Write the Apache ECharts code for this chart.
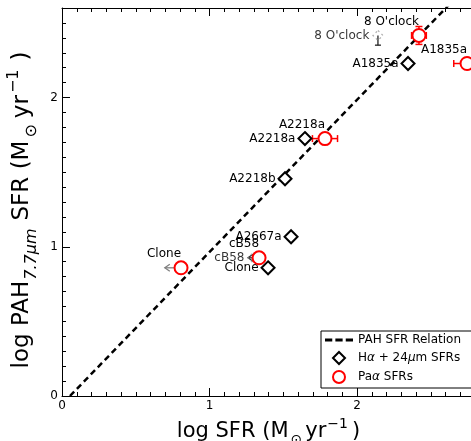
<!DOCTYPE html>
<html><head><meta charset="utf-8">
<script src="https://cdn.jsdelivr.net/npm/echarts@6/dist/echarts.min.js"></script>
<style>html,body{margin:0;padding:0;background:#fff}#c{width:471px;height:441px}</style>
</head><body><div id="c"></div>
<script>
// PAH SFR relation line
const relX = [0.054, 2.75];
const relY = [0, 2.75];
// H-alpha + 24um SFRs (open diamonds)
const haNames = ['A1835a', 'A2218a', 'A2218b', 'A2667a', 'Clone'];
const haX = [2.346, 1.647, 1.512, 1.553, 1.397];
const haY = [2.228, 1.725, 1.456, 1.067, 0.859];
// Limit (faint) H-alpha points
const limNames = ["8 O'clock", 'cB58'];
const limX = [2.142, 1.295];
const limY = [2.416, 0.926];
// Pa-alpha SFRs (open red circles)
const paNames = ["8 O'clock", 'A1835a', 'A2218a', 'cB58', 'Clone'];
const paX = [2.42, 2.746, 1.783, 1.336, 0.807];
const paY = [2.416, 2.228, 1.725, 0.926, 0.859];
const paXErr = [0.05, 0.09, 0.085, 0, 0];
const paYErr = [0.06, 0, 0, 0, 0];
// Upper-limit arrows: start x, start y, dx, dy
const arrowX = [0.807, 1.336, 2.142];
const arrowY = [0.859, 0.926, 2.416];
const arrowDX = [-0.11, -0.075, 0];
const arrowDY = [0, 0, -0.065];
const xTicks = [0, 1, 2];
const yTicks = [0, 1, 2];

const FONT = 'DejaVu Sans';
const chart = echarts.init(document.getElementById('c'), null, {renderer: 'canvas'});

const errData = paX.map((x, i) => [x, paY[i], paXErr[i], paYErr[i]]).filter(d => d[2] > 0 || d[3] > 0);
const arrowData = arrowX.map((x, i) => [x, arrowY[i], arrowDX[i], arrowDY[i]]);
const arrowColors = ['#808080', '#333333', '#222222'];

const xNameRich = {
  n: {fontSize: 21, fontFamily: FONT, color: '#000', verticalAlign: 'bottom', padding: [0, 0, 5, 0]},
  sub: {fontSize: 14, fontFamily: FONT, color: '#000', verticalAlign: 'bottom', padding: [0, 3, 0, 2]},
  sup: {fontSize: 14, fontFamily: FONT, color: '#000', verticalAlign: 'bottom', padding: [0, 4, 16, 1]}
};
const yNameRich = {
  n: {fontSize: 23, fontFamily: FONT, color: '#000', verticalAlign: 'bottom', padding: [0, 0, 6, 0]},
  last: {fontSize: 23, fontFamily: FONT, color: '#000', verticalAlign: 'bottom', padding: [0, 16, 6, 0]},
  sub: {fontSize: 16, fontFamily: FONT, color: '#000', verticalAlign: 'bottom', padding: [0, 6, 0, 3]},
  subi: {fontSize: 16, fontFamily: FONT, fontStyle: 'italic', color: '#000', verticalAlign: 'bottom', padding: [0, 8, 0, 1]},
  sup: {fontSize: 16, fontFamily: FONT, color: '#000', verticalAlign: 'bottom', padding: [0, 9, 18, 2]}
};

function mkX(pos) {
  return {
    type: 'value', min: 0, max: 2.8, interval: 1, position: pos, gridIndex: 0,
    axisLine: {show: true, onZero: false, lineStyle: {color: '#000', width: 1}},
    axisTick: {show: true, inside: true, length: 8, lineStyle: {color: '#000', width: 1}},
    minorTick: {show: true, splitNumber: 10, length: 4, lineStyle: {color: '#000', width: 1}},
    splitLine: {show: false},
    axisLabel: pos === 'bottom' ? {
      show: true, fontFamily: FONT, fontSize: 12, color: '#000', margin: 4,
      formatter: v => xTicks.includes(v) ? String(v) : ''
    } : {show: false},
    name: pos === 'bottom' ? '{n|log SFR (M}{sub|⊙}{n|yr}{sup|−1}{n|)}' : '',
    nameLocation: 'middle', nameGap: 19,
    nameTextStyle: {rich: xNameRich}
  };
}

const option = {
  animation: false,
  backgroundColor: '#fff',
  grid: {left: 62, top: 8, width: 413, height: 388, containLabel: false, outerBoundsMode: 'none'},
  xAxis: [mkX('bottom'), mkX('top')],
  yAxis: [{
    type: 'value', min: 0, max: 2.6, interval: 1, position: 'left',
    axisLine: {show: true, onZero: false, lineStyle: {color: '#000', width: 1}},
    axisTick: {show: true, inside: true, length: 8, lineStyle: {color: '#000', width: 1}},
    minorTick: {show: true, splitNumber: 10, length: 4, lineStyle: {color: '#000', width: 1}},
    splitLine: {show: false},
    axisLabel: {fontFamily: FONT, fontSize: 12, color: '#000', margin: 4,
      formatter: v => yTicks.includes(v) ? String(v) : ''},
    name: '{n|log PAH}{subi|7.7μm}{n|SFR (M}{sub|⊙}{n|yr}{sup|−1}{last|)}',
    nameLocation: 'middle', nameRotate: 90, nameGap: 10,
    nameTextStyle: {rich: yNameRich}
  }],
  legend: {
    show: true, orient: 'vertical', left: 321, top: 331,
    data: [
      {name: 'PAH SFR Relation', icon: 'path://M0,0h7v3h-7z M10,0h7v3h-7z M20,0h7v3h-7z'},
      {name: 'Hα+24μm SFRs', icon: 'path://M6,0L12,6L6,12L0,6Z'},
      {name: 'Paα SFRs', icon: 'circle'}
    ],
    backgroundColor: '#fff', borderColor: '#000', borderWidth: 1, borderRadius: 0,
    padding: [3, 40, 4, 4], itemGap: 5, itemWidth: 28, itemHeight: 12,
    textStyle: {fontFamily: FONT, fontSize: 12, color: '#000', rich: {
      t: {fontFamily: FONT, fontSize: 12, color: '#000'},
      i: {fontFamily: FONT, fontSize: 12, fontStyle: 'italic', color: '#000'}
    }},
    formatter: name => {
      if (name === 'Hα+24μm SFRs') return '{t|H}{i|α}{t| + 24}{i|μ}{t|m SFRs}';
      if (name === 'Paα SFRs') return '{t|Pa}{i|α}{t| SFRs}';
      return '{t|' + name + '}';
    }
  },
  series: [
    {
      name: 'PAH SFR Relation', type: 'line', symbol: 'none', clip: true,
      data: relX.map((x, i) => [x, relY[i]]),
      lineStyle: {color: '#000', width: 2.5, type: [6, 4]},
      itemStyle: {color: '#000'},
      z: 2
    },
    {
      name: 'limits', type: 'scatter', symbol: 'diamond', symbolSize: 10,
      data: limX.map((x, i) => ({name: limNames[i], value: [x, limY[i]]})),
      itemStyle: {color: 'rgba(255,255,255,0)', borderColor: '#9a9a9a', borderWidth: 1.2, borderType: [2, 3]},
      label: {show: true, position: 'left', distance: 3, formatter: '{b}',
        fontFamily: FONT, fontSize: 12, color: '#000'},
      z: 3
    },
    {
      name: 'arrows', type: 'custom', z: 3,
      data: arrowData,
      renderItem: (params, api) => {
        const x = api.value(0), y = api.value(1), dx = api.value(2), dy = api.value(3);
        const p0 = api.coord([x, y]);
        const p1 = api.coord([x + dx, y + dy]);
        const col = arrowColors[params.dataIndex];
        const st = {stroke: col, lineWidth: 1.3, fill: null};
        const ch = [{type: 'line', shape: {x1: p0[0], y1: p0[1], x2: p1[0], y2: p1[1]}, style: st}];
        if (dx !== 0) {
          const s = dx < 0 ? 1 : -1;
          ch.push({type: 'polyline', shape: {points: [[p1[0] + 5 * s, p1[1] - 3.5], [p1[0], p1[1]], [p1[0] + 5 * s, p1[1] + 3.5]]}, style: st});
        } else {
          ch.push({type: 'line', shape: {x1: p1[0] - 3, y1: p1[1], x2: p1[0] + 3, y2: p1[1]}, style: st});
        }
        return {type: 'group', children: ch};
      }
    },
    {
      name: 'errbars', type: 'custom', z: 3,
      data: errData,
      renderItem: (params, api) => {
        const x = api.value(0), y = api.value(1), xe = api.value(2), ye = api.value(3);
        const st = {stroke: '#ff0000', lineWidth: 1.5};
        const ch = [];
        if (xe > 0) {
          const l = api.coord([x - xe, y]), r = api.coord([x + xe, y]);
          ch.push({type: 'line', shape: {x1: l[0], y1: l[1], x2: r[0], y2: r[1]}, style: st});
          ch.push({type: 'line', shape: {x1: l[0], y1: l[1] - 3.5, x2: l[0], y2: l[1] + 3.5}, style: st});
          ch.push({type: 'line', shape: {x1: r[0], y1: r[1] - 3.5, x2: r[0], y2: r[1] + 3.5}, style: st});
        }
        if (ye > 0) {
          const b = api.coord([x, y - ye]), t = api.coord([x, y + ye]);
          ch.push({type: 'line', shape: {x1: b[0], y1: b[1], x2: t[0], y2: t[1]}, style: st});
          ch.push({type: 'line', shape: {x1: b[0] - 3.5, y1: b[1], x2: b[0] + 3.5, y2: b[1]}, style: st});
          ch.push({type: 'line', shape: {x1: t[0] - 3.5, y1: t[1], x2: t[0] + 3.5, y2: t[1]}, style: st});
        }
        return {type: 'group', children: ch};
      }
    },
    {
      name: 'Hα+24μm SFRs', type: 'scatter', symbol: 'diamond', symbolSize: 13,
      data: haX.map((x, i) => ({name: haNames[i], value: [x, haY[i]]})),
      itemStyle: {color: '#fff', borderColor: '#000', borderWidth: 2, opacity: 1},
      label: {show: true, position: 'left', distance: 2, formatter: '{b}',
        fontFamily: FONT, fontSize: 12, color: '#000'},
      z: 4
    },
    {
      name: 'Paα SFRs', type: 'scatter', symbol: 'circle', symbolSize: 13,
      data: paX.map((x, i) => ({name: paNames[i], value: [x, paY[i]]})),
      itemStyle: {color: '#fff', borderColor: '#ff0000', borderWidth: 2, opacity: 1},
      label: {show: true, position: 'top', distance: 0, align: 'right', formatter: '{b}',
        fontFamily: FONT, fontSize: 12, color: '#000'},
      z: 5
    }
  ]
};
chart.setOption(option);
</script></body></html>
